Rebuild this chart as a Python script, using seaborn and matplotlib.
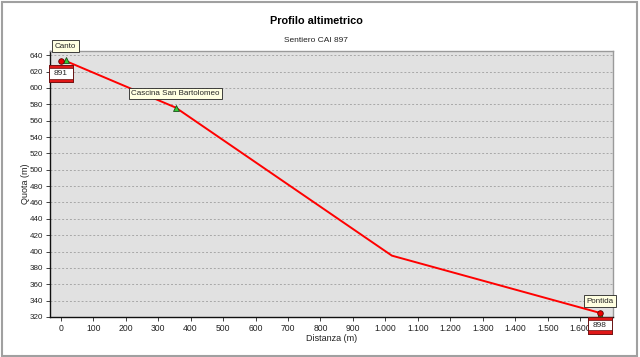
import matplotlib
matplotlib.use("Agg")
import matplotlib.pyplot as plt
import matplotlib.ticker as mticker
from matplotlib.patches import Rectangle
import seaborn as sns
import pandas as pd

# ---- data ----
profile_dist = [15, 354, 1020, 1661]
profile_elev = [633, 576, 395, 325]

waypoint_names = ["Canto", "Cascina San Bartolomeo", "Pontida"]
waypoint_dist = [15, 354, 1661]
waypoint_elev = [634, 576, 322]

endpoint_labels = ["891", "898"]
endpoint_dist = [0, 1661]
endpoint_elev = [633, 325]

x_ticks = list(range(0, 1700, 100))
y_ticks = list(range(320, 660, 20))

title = "Profilo altimetrico"
subtitle = "Sentiero CAI 897"
x_label = "Distanza (m)"
y_label = "Quota (m)"

# ---- plot ----
sns.set_theme(style="white")
plt.rcParams["font.family"] = ["Liberation Sans", "DejaVu Sans"]

fig = plt.figure(figsize=(6.4, 3.57), dpi=100)
fig.patch.set_facecolor("white")
ax = fig.add_axes([50 / 640, 1 - 317 / 357, (613.3 - 50) / 640, (317 - 50.7) / 357])
ax.set_facecolor("#e1e1e1")

prof = pd.DataFrame({"d": profile_dist, "e": profile_elev})
sns.lineplot(data=prof, x="d", y="e", ax=ax, color="#ff0000", linewidth=1.4,
             sort=False, zorder=3)

wp = pd.DataFrame({"d": waypoint_dist, "e": waypoint_elev, "n": waypoint_names})
sns.scatterplot(data=wp, x="d", y="e", ax=ax, marker="^", s=18, color="#33cc33",
                edgecolor="#1a4d1a", linewidth=0.6, zorder=4)

ep = pd.DataFrame({"d": endpoint_dist, "e": endpoint_elev, "n": endpoint_labels})
sns.scatterplot(data=ep, x="d", y="e", ax=ax, marker="o", s=16, color="#ee0000",
                edgecolor="#550000", linewidth=0.6, zorder=5)

for n, d, e in zip(waypoint_names, waypoint_dist, waypoint_elev):
    ax.annotate(n, xy=(d, e), xytext=(0, 14), textcoords="offset pixels",
                ha="center", va="center", fontsize=5.8, zorder=6,
                annotation_clip=False,
                bbox=dict(boxstyle="square,pad=0.3", fc="#ffffe1", ec="#222222", lw=0.6))

end_texts = []
for n, d, e in zip(endpoint_labels, endpoint_dist, endpoint_elev):
    t = ax.annotate(n, xy=(d, e), xytext=(0, -13), textcoords="offset pixels",
                    ha="center", va="center", fontsize=6, zorder=7,
                    annotation_clip=False,
                    bbox=dict(boxstyle="square,pad=0.6", fc="white", ec="#661111", lw=0.7))
    end_texts.append(t)

ax.set_xlim(-33, 1702)
ax.set_ylim(320, 645.5)
ax.set_xticks(x_ticks)
ax.set_yticks(y_ticks)
ax.xaxis.set_major_formatter(mticker.FuncFormatter(lambda v, p: f"{int(v):,}".replace(",", ".")))
ax.tick_params(axis="both", labelsize=6.2, length=3, width=0.6, direction="out",
               colors="#222222", pad=2, bottom=True, left=True)
ax.tick_params(axis="y", labelsize=5.8)
ax.yaxis.grid(True, linestyle=(0, (2, 2)), color="#a8a8a8", linewidth=0.7)
ax.xaxis.grid(False)

for s in ["left", "bottom"]:
    ax.spines[s].set_color("#111111")
    ax.spines[s].set_linewidth(1.0)
for s in ["top", "right"]:
    ax.spines[s].set_color("#9a9a9a")
    ax.spines[s].set_linewidth(1.0)

ax.set_xlabel(x_label, fontsize=6.5, labelpad=1, color="#222222")
ax.set_ylabel(y_label, fontsize=6.5, color="#222222")
ax.yaxis.set_label_coords(-20.5 / 563.3, 0.5)

fig.text(316 / 640, 1 - 21 / 357, title, ha="center", va="center",
         fontsize=7.8, fontweight="bold", color="black")
fig.text(316 / 640, 1 - 40 / 357, subtitle, ha="center", va="center",
         fontsize=6, color="#222222")

fig.patches.append(Rectangle((1.5 / 640, 1.5 / 357), 635 / 640, 354 / 357,
                             transform=fig.transFigure, fill=False,
                             ec="#a0a0a0", lw=1.5))

# red bands on the endpoint label boxes (derived from the drawn boxes)
fig.canvas.draw()
renderer = fig.canvas.get_renderer()
inv = fig.transFigure.inverted()
for t in end_texts:
    bb = t.get_bbox_patch().get_window_extent(renderer)
    (x0, y0), (x1, y1) = inv.transform([(bb.x0, bb.y0), (bb.x1, bb.y1)])
    h = y1 - y0
    for yb, hb in [(y1 - 0.17 * h, 0.17 * h), (y0, 0.23 * h)]:
        fig.patches.append(Rectangle((x0, yb), x1 - x0, hb, transform=fig.transFigure,
                                     fc="#e01818", ec="#661111", lw=0.5, zorder=8))

fig.savefig("out.png", dpi=100)
